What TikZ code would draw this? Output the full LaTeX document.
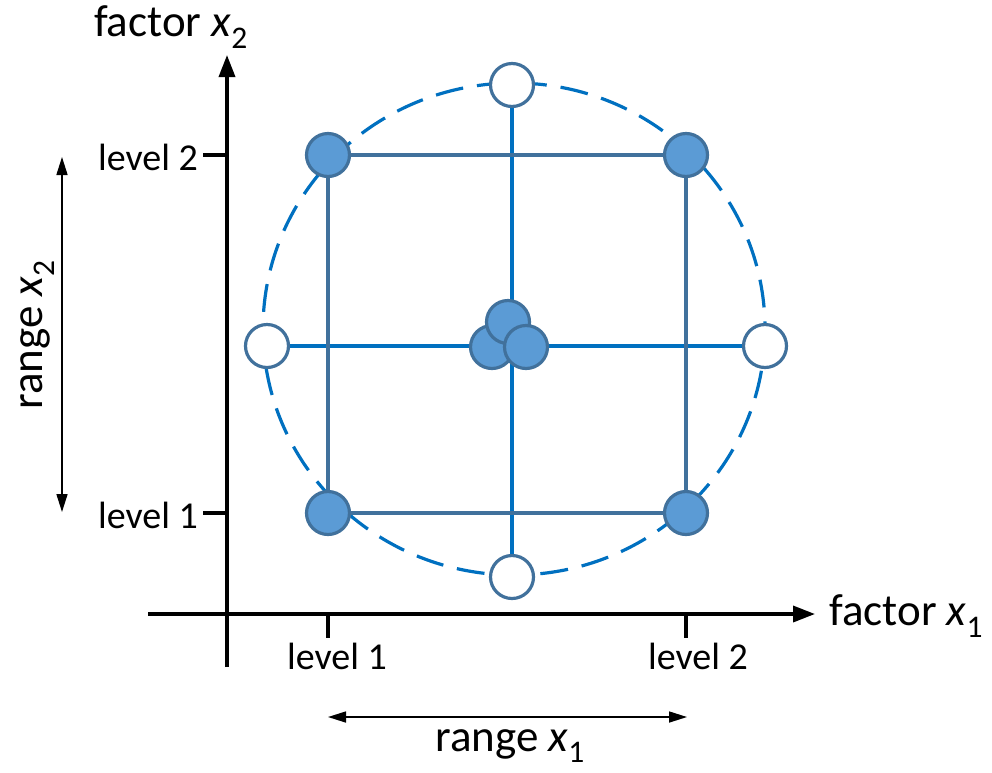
\documentclass[tikz,border=0pt]{standalone}
\usepackage{fontspec}
\setmainfont{Carlito}
\usetikzlibrary{arrows.meta}
\definecolor{fillblue}{HTML}{5B9BD5}
\definecolor{edgeblue}{HTML}{41719C}
\definecolor{crossblue}{HTML}{0070C0}
\tikzset{
  pt/.style={circle, draw=edgeblue, line width=3.2pt, minimum size=43pt, inner sep=0pt},
  full/.style={pt, fill=fillblue},
  empty/.style={pt, fill=white},
  sq/.style={draw=edgeblue, line width=3.2pt},
  cross/.style={draw=crossblue, line width=3.2pt},
  axis/.style={line width=3.5pt, -{Triangle[length=22pt,width=16pt]}},
  rng/.style={line width=1.6pt, {Triangle[length=18pt,width=11pt]}-{Triangle[length=18pt,width=11pt]}},
  lvl/.style={font=\fontsize{38}{40}\selectfont, inner sep=0pt},
  axlab/.style={font=\fontsize{45}{48}\selectfont, inner sep=0pt},
  tick/.style={line width=3.5pt}
}
\begin{document}
\begin{tikzpicture}[x=1pt,y=-1pt]
\useasboundingbox (0,0) rectangle (992,772);
% dashed ellipse
\draw[crossblue, line width=3.2pt, dash pattern=on 28pt off 14pt] (514,329) ellipse [x radius=251, y radius=246];
% coordinates
\coordinate (ybot) at (227,667);
\coordinate (ytop) at (227,55);
\coordinate (xl) at (148,614);
\coordinate (xr) at (815,614);
% axes
\draw[axis] (ybot) -- (ytop);
\draw[axis] (xl) -- (xr);
% ticks
\coordinate (ty2a) at (203,155); \coordinate (ty2b) at (227,155);
\coordinate (ty1a) at (203,513); \coordinate (ty1b) at (227,513);
\coordinate (tx1a) at (328,614); \coordinate (tx1b) at (328,638);
\coordinate (tx2a) at (686,614); \coordinate (tx2b) at (686,638);
\draw[tick] (ty2a) -- (ty2b);
\draw[tick] (ty1a) -- (ty1b);
\draw[tick] (tx1a) -- (tx1b);
\draw[tick] (tx2a) -- (tx2b);
% labels
\node[lvl, anchor=east] (ly2) at (198,157) {level 2};
\node[lvl, anchor=east] (ly1) at (198,515) {level 1};
\node[lvl] (lx1) at (337,656) {level 1};
\node[lvl] (lx2) at (698,656) {level 2};
\node[axlab, anchor=west] (fx1) at (829,616) {factor \textit{x}\textsubscript{1}};
\node[axlab] (fx2) at (171,27) {factor \textit{x}\textsubscript{2}};
\node[axlab] (rx1) at (510,746) {range \textit{x}\textsubscript{1}};
\node[axlab, rotate=90] (rx2) at (38,335) {range \textit{x}\textsubscript{2}};
% range arrows
\coordinate (ra1) at (328,717); \coordinate (ra2) at (687,717);
\coordinate (rb1) at (62,157); \coordinate (rb2) at (62,512);
\draw[rng] (ra1) -- (ra2);
\draw[rng] (rb1) -- (rb2);
% star points
\node[empty] (top) at (512,85) {};
\node[empty] (bot) at (512,577) {};
\node[empty] (lft) at (267,346) {};
\node[empty] (rgt) at (765,346) {};
\draw[cross] (top) -- (bot);
\draw[cross] (lft) -- (rgt);
% factorial points
\node[full] (tl) at (328,155) {};
\node[full] (tr) at (686,155) {};
\node[full] (bl) at (328,513) {};
\node[full] (br) at (686,513) {};
\draw[sq] (tl) -- (tr);
\draw[sq] (tr) -- (br);
\draw[sq] (br) -- (bl);
\draw[sq] (bl) -- (tl);
% center points
\node[full] (cl) at (492,347) {};
\node[full] (ct) at (508,322) {};
\node[full] (cr) at (526,347) {};
\end{tikzpicture}
\end{document}
